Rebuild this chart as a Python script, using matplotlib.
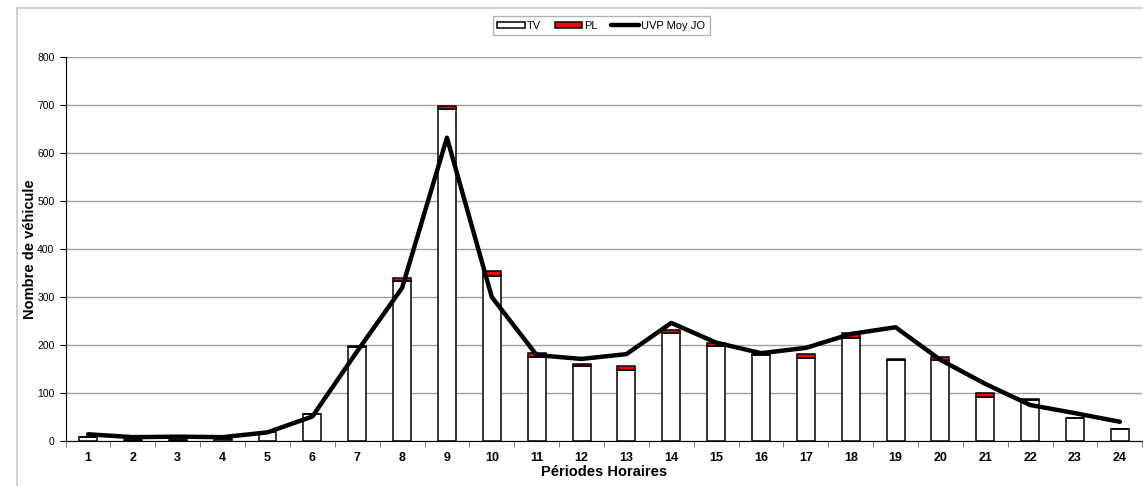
import matplotlib.pyplot as plt
from matplotlib.patches import Rectangle
import numpy as np

plt.rcParams['font.family'] = ['Liberation Sans', 'DejaVu Sans']

periodes = list(range(1, 25))
tv = [9, 3, 3, 4, 19, 56, 195, 334, 692, 344, 176, 156, 148, 225, 197, 180,
      172, 214, 168, 169, 92, 86, 47, 26]
pl = [0, 0, 0, 0, 0, 0, 3, 5, 6, 10, 8, 5, 8, 6, 8, 1,
      10, 10, 2, 7, 7, 1, 0, 0]
uvp = [14, 8, 9, 8, 18, 51, 187, 319, 632, 300, 179, 171, 181, 246, 205, 183,
       194, 223, 237, 169, 119, 75, 58, 40]

fig = plt.figure(figsize=(11.43, 4.86), dpi=100)
ax = fig.add_axes([0.0574, 0.0926, 0.942, 0.790])

# outer chart border (light grey, cropped on right/bottom)
fig.patches.append(Rectangle((17 / 1143, -0.1), 1.2, 1 - 8 / 486 + 0.1,
                             transform=fig.transFigure, fill=False,
                             edgecolor='#c8c8c8', linewidth=1.2))

x = np.array(periodes)
b_tv = ax.bar(x, tv, width=0.4, color='white', edgecolor='black',
              linewidth=1.1, label='TV', zorder=2)
b_pl = ax.bar(x, pl, width=0.4, bottom=tv, color='#ff0000', edgecolor='black',
              linewidth=1.1, label='PL', zorder=2)
ln, = ax.plot(x, uvp, color='black', linewidth=3.2, label='UVP Moy JO',
              zorder=3, solid_capstyle='round', solid_joinstyle='round')

ax.set_xlim(0.5, 24.5)
ax.set_ylim(0, 800)
ax.set_yticks(range(0, 801, 100))
ax.yaxis.grid(True, color='#a0a0a0', linewidth=1)
ax.set_axisbelow(True)

ax.set_xticks(x)
ax.set_xticklabels([str(p) for p in periodes], fontsize=9, fontweight='bold')
ax.set_xticks(np.arange(0.5, 25, 1), minor=True)
ax.tick_params(axis='x', which='major', length=0, pad=8)
ax.tick_params(axis='x', which='minor', length=4, direction='out',
               color='#606060')
ax.tick_params(axis='y', labelsize=7.5, length=4, direction='out', pad=4)

for s in ['top', 'right']:
    ax.spines[s].set_visible(False)
ax.spines['left'].set_color('black')
ax.spines['bottom'].set_color('black')

ax.set_xlabel('Périodes Horaires', fontsize=10.5, fontweight='bold', labelpad=1)
ax.set_ylabel('Nombre de véhicule', fontsize=10.5, fontweight='bold')
ax.yaxis.set_label_coords(-0.027, 0.5)

leg = fig.legend([b_tv, b_pl, ln], ['TV', 'PL', 'UVP Moy JO'], loc='center',
                 bbox_to_anchor=(0.526, 0.947), ncol=3,
                 fontsize=8, frameon=True, fancybox=False, edgecolor='#a0a0a0',
                 handlelength=2.5, handletextpad=0.2, columnspacing=1.2,
                 borderpad=0.4, handleheight=0.5)
leg.get_frame().set_linewidth(1)

fig.savefig('out.png', dpi=100)
